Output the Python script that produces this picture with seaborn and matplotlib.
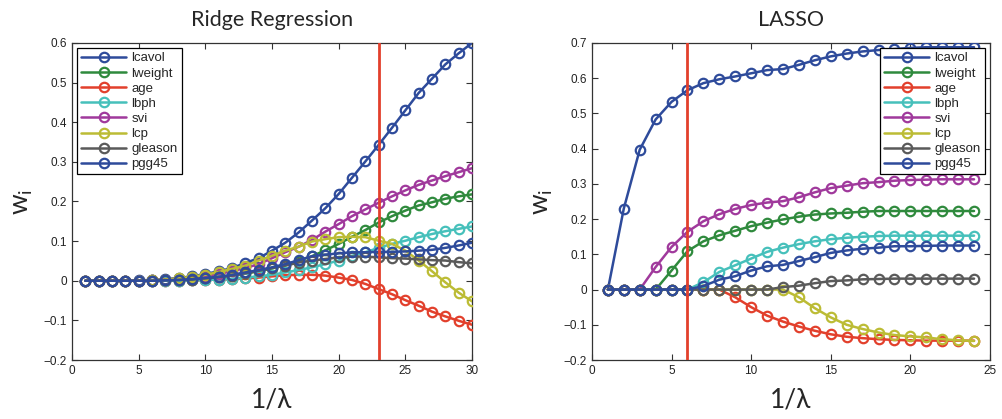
import numpy as np
import pandas as pd
import seaborn as sns
import matplotlib.pyplot as plt

features = ['lcavol', 'lweight', 'age', 'lbph', 'svi', 'lcp', 'gleason', 'pgg45']
colors = ['#2e4b9b', '#2f8a3d', '#e2402c', '#46c0bb', '#a0399c', '#bcbc35', '#5a5a5a', '#2e4b9b']

# ridge path, 1/lambda = 1..30
ridge_x = list(range(1, 31))
ridge_lcavol = [0, 0, 0, 0, 0.001, 0.002, 0.004, 0.007, 0.011, 0.017, 0.024, 0.032, 0.045, 0.057, 0.076,
                0.096, 0.122, 0.152, 0.183, 0.219, 0.26, 0.301, 0.343, 0.386, 0.43, 0.474, 0.51, 0.546, 0.574, 0.6]
ridge_lweight = [0, 0, 0, 0, 0, 0.001, 0.002, 0.003, 0.004, 0.006, 0.009, 0.013, 0.018, 0.024, 0.031,
                 0.04, 0.05, 0.062, 0.077, 0.093, 0.111, 0.128, 0.147, 0.163, 0.177, 0.19, 0.198, 0.207, 0.213, 0.218]
ridge_age = [0, 0, 0, 0, 0, 0, 0, 0, 0.001, 0.002, 0.003, 0.004, 0.006, 0.008, 0.011,
             0.014, 0.015, 0.015, 0.013, 0.008, 0.002, -0.008, -0.021, -0.034, -0.049, -0.063, -0.078, -0.09, -0.101, -0.111]
ridge_lbph = [0, 0, 0, 0, 0, 0, 0, 0, 0.001, 0.002, 0.003, 0.005, 0.008, 0.011, 0.015,
              0.021, 0.027, 0.034, 0.042, 0.051, 0.063, 0.072, 0.083, 0.093, 0.101, 0.11, 0.118, 0.125, 0.131, 0.137]
ridge_svi = [0, 0, 0, 0, 0, 0.001, 0.003, 0.005, 0.008, 0.012, 0.017, 0.024, 0.032, 0.042, 0.057,
             0.072, 0.086, 0.103, 0.124, 0.143, 0.163, 0.18, 0.197, 0.213, 0.228, 0.242, 0.253, 0.264, 0.274, 0.284]
ridge_lcp = [0, 0, 0, 0, 0, 0.001, 0.003, 0.006, 0.01, 0.015, 0.022, 0.03, 0.038, 0.051, 0.063,
             0.076, 0.086, 0.099, 0.105, 0.11, 0.111, 0.11, 0.101, 0.093, 0.076, 0.051, 0.024, -0.004, -0.03, -0.052]
ridge_gleason = [0, 0, 0, 0, 0, 0, 0.001, 0.002, 0.003, 0.006, 0.009, 0.013, 0.019, 0.025, 0.032,
                 0.038, 0.046, 0.051, 0.055, 0.059, 0.061, 0.061, 0.059, 0.057, 0.056, 0.054, 0.052, 0.051, 0.047, 0.044]
ridge_pgg45 = [0, 0, 0, 0, 0, 0, 0.001, 0.002, 0.004, 0.007, 0.01, 0.015, 0.021, 0.027, 0.034,
               0.042, 0.052, 0.062, 0.066, 0.069, 0.072, 0.072, 0.073, 0.073, 0.074, 0.076, 0.078, 0.083, 0.089, 0.096]

# lasso path, 1/lambda = 1..24
lasso_x = list(range(1, 25))
lasso_lcavol = [0, 0.23, 0.397, 0.483, 0.533, 0.566, 0.586, 0.597, 0.605, 0.614, 0.623, 0.626,
                0.638, 0.651, 0.662, 0.67, 0.676, 0.68, 0.683, 0.686, 0.688, 0.688, 0.688, 0.688]
lasso_lweight = [0, 0, 0, 0, 0.054, 0.109, 0.137, 0.154, 0.167, 0.18, 0.19, 0.199,
                 0.207, 0.213, 0.216, 0.218, 0.221, 0.223, 0.223, 0.223, 0.223, 0.223, 0.223, 0.223]
lasso_age = [0, 0, 0, 0, 0, 0, 0, 0, -0.022, -0.05, -0.074, -0.091,
             -0.105, -0.117, -0.127, -0.134, -0.138, -0.141, -0.143, -0.144, -0.145, -0.145, -0.145, -0.145]
lasso_lbph = [0, 0, 0, 0, 0, 0, 0.021, 0.05, 0.069, 0.088, 0.107, 0.119,
              0.129, 0.137, 0.143, 0.147, 0.15, 0.152, 0.153, 0.153, 0.153, 0.153, 0.153, 0.153]
lasso_svi = [0, 0, 0, 0.064, 0.121, 0.164, 0.194, 0.214, 0.229, 0.24, 0.247, 0.251,
             0.262, 0.276, 0.288, 0.295, 0.302, 0.305, 0.309, 0.311, 0.312, 0.313, 0.313, 0.313]
lasso_lcp = [0, 0, 0, 0, 0, 0, 0, 0, 0, 0, 0, 0,
             -0.022, -0.053, -0.079, -0.1, -0.112, -0.122, -0.129, -0.133, -0.136, -0.141, -0.144, -0.146]
lasso_gleason = [0, 0, 0, 0, 0, 0, 0, 0, 0, 0, 0, 0.007,
                 0.011, 0.018, 0.024, 0.026, 0.029, 0.03, 0.031, 0.031, 0.031, 0.031, 0.031, 0.031]
lasso_pgg45 = [0, 0, 0, 0, 0, 0, 0.01, 0.028, 0.038, 0.054, 0.066, 0.07,
               0.081, 0.092, 0.104, 0.111, 0.116, 0.119, 0.123, 0.123, 0.124, 0.125, 0.125, 0.125]

ridge_cut = 23
lasso_cut = 6


def to_long(x, series):
    frames = [pd.DataFrame({'x': x, 'w': vals, 'feature': name}) for name, vals in zip(features, series)]
    return pd.concat(frames, ignore_index=True)


ridge_df = to_long(ridge_x, [ridge_lcavol, ridge_lweight, ridge_age, ridge_lbph,
                             ridge_svi, ridge_lcp, ridge_gleason, ridge_pgg45])
lasso_df = to_long(lasso_x, [lasso_lcavol, lasso_lweight, lasso_age, lasso_lbph,
                             lasso_svi, lasso_lcp, lasso_gleason, lasso_pgg45])

sns.set_style('ticks')
plt.rcParams['font.family'] = ['Liberation Sans', 'DejaVu Sans']
label_font = ['Lato', 'DejaVu Sans']

fig = plt.figure(figsize=(10.03, 4.19), dpi=100)
ax1 = fig.add_axes([0.0718, 0.1408, 0.3988, 0.7566])
ax2 = fig.add_axes([0.5902, 0.1408, 0.3968, 0.7566])


def draw(ax, df, cut, title, xmax, ymax, loc):
    sns.lineplot(data=df, x='x', y='w', hue='feature', hue_order=features,
                 palette=dict(zip(features, colors)), marker='o', markersize=6.8,
                 markerfacecolor='none', markeredgewidth=1.6, linewidth=1.8,
                 legend=False, ax=ax, zorder=3)
    for line, c in zip(ax.lines, colors):
        line.set_markeredgecolor(c)
    ax.axvline(cut, color='#e2402c', linewidth=2, zorder=4)
    ax.set_xlim(0, xmax)
    ax.set_ylim(-0.2, ymax)
    ax.set_xticks(np.arange(0, xmax + 1, 5))
    yt = np.round(np.arange(-0.2, ymax + 0.001, 0.1), 1)
    ax.set_yticks(yt)
    ax.set_yticklabels(['0' if v == 0 else f'{v:.1f}'.replace('-', '\u2212') for v in yt])
    ax.tick_params(direction='in', top=True, right=True, labelsize=8.5, length=4,
                   width=0.8, colors='#333333', labelcolor='#222222')
    for s in ax.spines.values():
        s.set_visible(True)
        s.set_color('#333333')
        s.set_linewidth(0.9)
    ax.set_title(title, fontsize=15.5, family=label_font, pad=12)
    ax.set_xlabel('1/\u03bb', fontsize=19, family=label_font, labelpad=8)
    ax.set_ylabel('$\\mathregular{w_i}$', fontsize=19, family=label_font, labelpad=6)
    leg = ax.legend(handles=ax.lines[:8], labels=features, loc=loc, fontsize=9.5,
                    frameon=True, fancybox=False, edgecolor='black', framealpha=1,
                    borderpad=0.3, labelspacing=0.22, handlelength=3.4, handletextpad=0.4,
                    borderaxespad=0.4)
    leg.get_frame().set_linewidth(0.9)


draw(ax1, ridge_df, ridge_cut, 'Ridge Regression', 30, 0.6, 'upper left')
draw(ax2, lasso_df, lasso_cut, 'LASSO', 25, 0.7, 'upper right')

fig.savefig('out.png', dpi=100)
